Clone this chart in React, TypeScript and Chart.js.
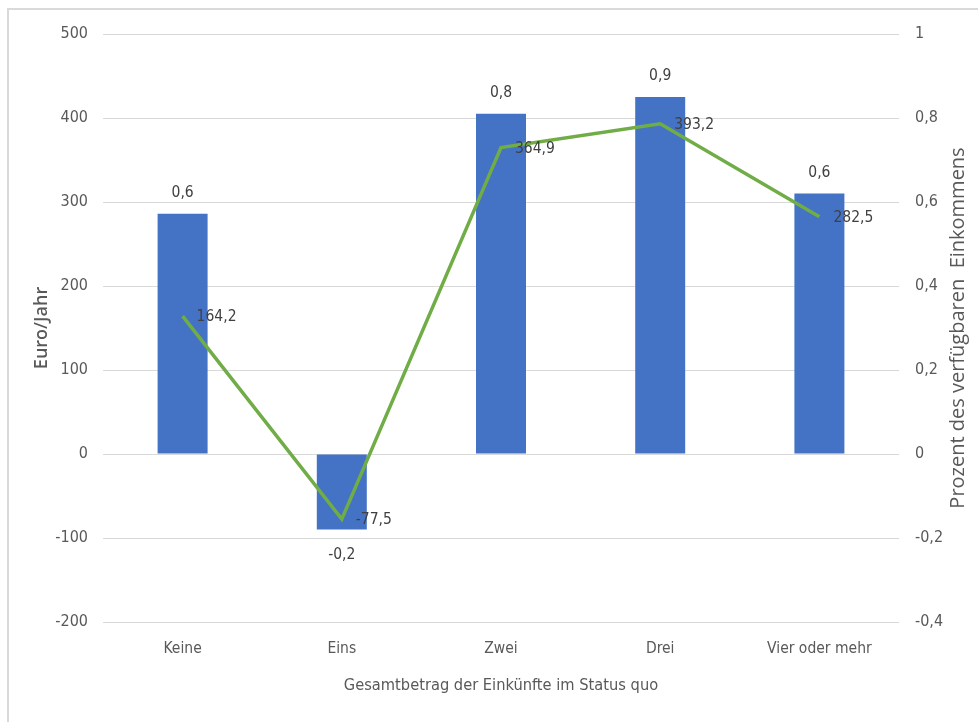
import React, { useEffect, useRef } from "react";
import { Chart, registerables } from "chart.js";

Chart.register(...registerables);

const categories = ["Keine", "Eins", "Zwei", "Drei", "Vier oder mehr"];
const barValues = [286, -90, 405, 425, 310];
const barLabels = ["0,6", "-0,2", "0,8", "0,9", "0,6"];
const lineValues = [164.2, -77.5, 364.9, 393.2, 282.5];
const leftMin = -200;
const leftMax = 500;
const leftStep = 100;
const rightMin = -0.4;
const rightMax = 1;
const rightStep = 0.2;
const leftTitle = "Euro/Jahr";
const rightTitle = "Prozent des verfügbaren  Einkommens";
const xTitle = "Gesamtbetrag der Einkünfte im Status quo";

const NARROW = "'Liberation Sans Narrow', 'DejaVu Sans Condensed', 'Liberation Sans', sans-serif";
const WIDE = "'Open Sans', 'Noto Sans', sans-serif";
const GREY = "#595959";

const fmt = (v: number, d: number) => {
  const r = Math.round(v * Math.pow(10, d)) / Math.pow(10, d);
  return String(r).replace(".", ",");
};

const labelPlugin = {
  id: "labels",
  afterDatasetsDraw(chart: any) {
    const ctx = chart.ctx;
    ctx.save();
    ctx.font = `15.5px ${NARROW}`;
    ctx.fillStyle = "#404040";
    ctx.textBaseline = "middle";
    const barMeta = chart.getDatasetMeta(1);
    barMeta.data.forEach((el: any, i: number) => {
      ctx.textAlign = "center";
      const v = barValues[i];
      const y = v >= 0 ? el.y - 21 : el.y + 25;
      ctx.fillText(barLabels[i], el.x, y);
    });
    const lineMeta = chart.getDatasetMeta(0);
    lineMeta.data.forEach((el: any, i: number) => {
      ctx.textAlign = "left";
      ctx.fillText(fmt(lineValues[i], 1), el.x + 14, el.y + 1);
    });
    ctx.restore();
  },
  afterDraw(chart: any) {
    const ctx = chart.ctx;
    const a = chart.chartArea;
    ctx.save();
    ctx.font = `20px ${WIDE}`;
    ctx.fillStyle = GREY;
    ctx.textAlign = "center";
    ctx.textBaseline = "middle";
    ctx.translate(958, (a.top + a.bottom) / 2);
    ctx.rotate(-Math.PI / 2);
    ctx.fillText(rightTitle, 0, 0);
    ctx.restore();
    // frame
    ctx.save();
    ctx.fillStyle = "#d9d9d9";
    ctx.fillRect(7, 8, 2, chart.height - 8);
    ctx.fillRect(7, 8, chart.width - 7, 2);
    ctx.restore();
  },
};

export default function App() {
  const ref = useRef<HTMLCanvasElement>(null);
  useEffect(() => {
    if (!ref.current) return;
    const chart = new Chart(ref.current, {
      type: "bar",
      data: {
        labels: categories,
        datasets: [
          {
            type: "line",
            data: lineValues,
            borderColor: "#70AD47",
            borderWidth: 3.5,
            pointRadius: 0,
            tension: 0,
            yAxisID: "y",
            order: 0,
          } as any,
          {
            type: "bar",
            data: barValues,
            backgroundColor: "#4472C4",
            barPercentage: 0.314,
            categoryPercentage: 1,
            yAxisID: "y",
            order: 1,
          },
        ],
      },
      options: {
        responsive: false,
        animation: false,
        layout: { padding: { left: 0, right: 0, top: 34, bottom: 0 } },
        plugins: { legend: { display: false }, tooltip: { enabled: false } },
        scales: {
          x: {
            grid: { display: false, drawTicks: false },
            border: { display: false },
            ticks: { color: GREY, font: { family: NARROW, size: 15.5 }, padding: 18 },
            title: {
              display: true,
              text: xTitle,
              color: GREY,
              font: { family: NARROW, size: 16.3 },
              padding: { top: 0, bottom: 26 },
            },
            afterFit: (s: any) => {
              s.height = 100;
            },
          },
          y: {
            position: "left",
            min: leftMin,
            max: leftMax,
            ticks: {
              stepSize: leftStep,
              color: GREY,
              font: { family: NARROW, size: 16 },
              padding: 15,
            },
            grid: { color: "#d9d9d9", drawTicks: false, lineWidth: 1 },
            border: { display: false },
            title: {
              display: true,
              text: leftTitle,
              color: GREY,
              font: { family: WIDE, size: 18, weight: "600" },
              padding: { top: 31, bottom: 0 },
            },
            afterFit: (s: any) => {
              s.width = 103;
            },
          },
          y1: {
            position: "right",
            min: rightMin,
            max: rightMax,
            ticks: {
              stepSize: rightStep,
              color: GREY,
              font: { family: NARROW, size: 16 },
              padding: 16,
              callback: (v: any) => fmt(Number(v), 1),
            },
            grid: { display: false, drawTicks: false },
            border: { display: false },
            afterFit: (s: any) => {
              s.width = 79;
            },
          },
        },
      },
      plugins: [labelPlugin],
    });
    return () => chart.destroy();
  }, []);
  return (
    <div style={{ position: "absolute", left: 0, top: 0, width: 978, height: 722, background: "#fff" }}>
      <canvas ref={ref} width={978} height={722} style={{ display: "block" }} />
    </div>
  );
}
